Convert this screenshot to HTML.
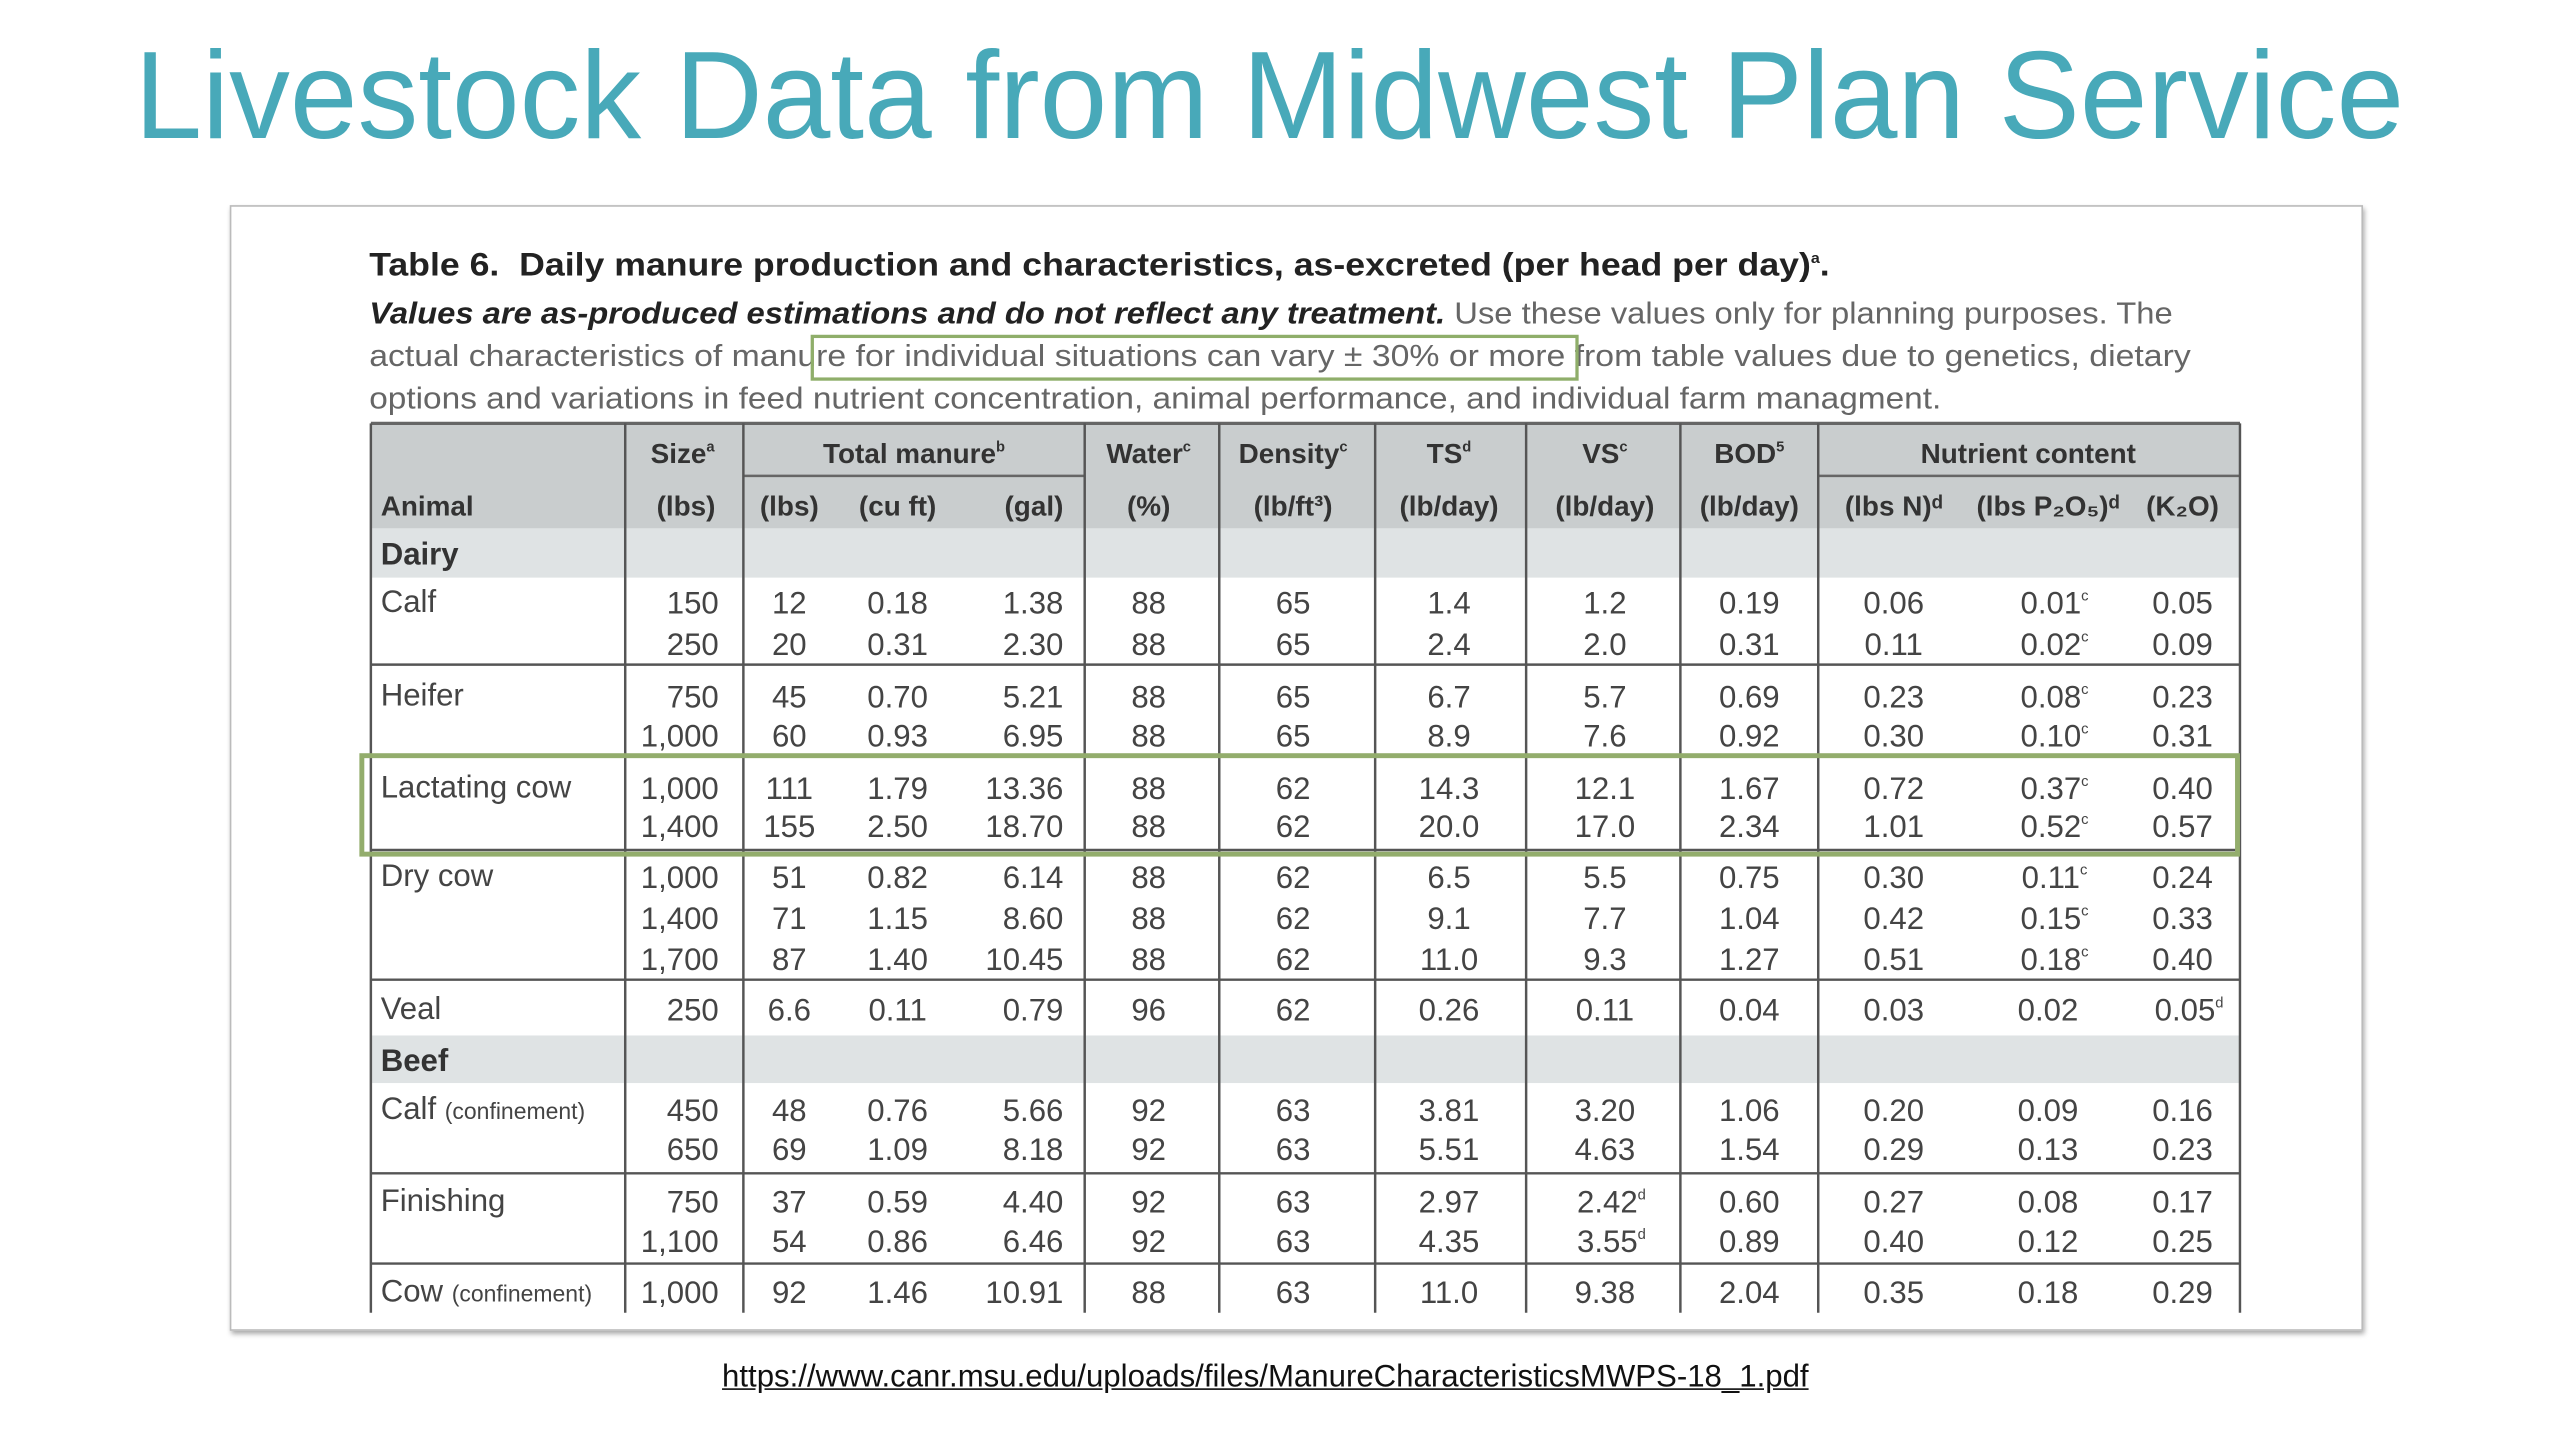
<!DOCTYPE html>
<html><head><meta charset="utf-8">
<style>
html,body{margin:0;padding:0;background:#fff;width:2560px;height:1440px;overflow:hidden}
#stage{position:absolute;left:0;top:0;width:1560px;height:878px;transform:scale(1.641);transform-origin:0 0;font-family:"Liberation Sans",sans-serif}
.abs{position:absolute;white-space:nowrap}
#title{left:82px;top:14px;font-size:76px;color:#48a9b9;line-height:90px;transform-origin:0 0}
#frame{left:140px;top:125px;width:1298px;height:684px;border:1px solid #bbb;box-shadow:1px 2px 3px rgba(0,0,0,.35);background:#fff}
.cap{font-size:18.5px;color:#666;left:225px;transform-origin:0 0}
sup,sub{font-size:9px}
</style></head><body>
<div id="stage">
<div id="title" class="abs">Livestock Data from Midwest Plan Service</div>
<div id="frame" class="abs"></div>
<div class="abs cap fit" data-end="1115" style="top:151px;font-size:20px;font-weight:bold;color:#222">Table 6.&nbsp; Daily manure production and characteristics, as-excreted (per head per day)<sup>a</sup>.</div>
<div class="abs cap fit" data-end="1324" style="top:180px"><b><i style="color:#222">Values are as-produced estimations and do not reflect any treatment.</i></b> Use these values only for planning purposes. The</div>
<div class="abs cap fit" data-end="1335" style="top:206px">actual characteristics of manure for individual situations can vary ± 30% or more from table values due to genetics, dietary</div>
<div class="abs cap fit" data-end="1183" style="top:232px">options and variations in feed nutrient concentration, animal performance, and individual farm managment.</div>
<div class="abs" style="left:494px;top:204px;width:464px;height:24px;border:2px solid #8fae6a"></div>
<svg id="tbl" class="abs" style="left:0;top:0" width="1560" height="878"></svg>
<div class="abs" style="left:219px;top:459px;width:1140px;height:57px;border:3px solid #93ad6c"></div>
<div class="abs" style="left:440px;top:829px;font-size:19px;color:#111;text-decoration:underline">https://www.canr.msu.edu/uploads/files/ManureCharacteristicsMWPS-18_1.pdf</div>
</div>
<script>
const colLines=[226,381,453,661,743,838,930,1024,1108,1365];
const colX=[232,438,481,547,648,700,788,883,978,1066,1154,1248,1330];
const colAlign=['start','end','middle','middle','end','middle','middle','middle','middle','middle','middle','middle','middle'];
const sections=[{name:'Dairy',y:322,h:30},{name:'Beef',y:631,h:29}];
const groupLines=[405,460,518,597,715,770];
const rowLabels=['Calf','','Heifer','','Lactating cow','','Dry cow','','','Veal','Calf (confinement)','','Finishing','','Cow (confinement)'];
const rowY=[367,392,424,448,480,503,534,559,584,615,676,700,732,756,787];
const rowVals=[
['150','12','0.18','1.38','88','65','1.4','1.2','0.19','0.06','0.01c','0.05'],
['250','20','0.31','2.30','88','65','2.4','2.0','0.31','0.11','0.02c','0.09'],
['750','45','0.70','5.21','88','65','6.7','5.7','0.69','0.23','0.08c','0.23'],
['1,000','60','0.93','6.95','88','65','8.9','7.6','0.92','0.30','0.10c','0.31'],
['1,000','111','1.79','13.36','88','62','14.3','12.1','1.67','0.72','0.37c','0.40'],
['1,400','155','2.50','18.70','88','62','20.0','17.0','2.34','1.01','0.52c','0.57'],
['1,000','51','0.82','6.14','88','62','6.5','5.5','0.75','0.30','0.11c','0.24'],
['1,400','71','1.15','8.60','88','62','9.1','7.7','1.04','0.42','0.15c','0.33'],
['1,700','87','1.40','10.45','88','62','11.0','9.3','1.27','0.51','0.18c','0.40'],
['250','6.6','0.11','0.79','96','62','0.26','0.11','0.04','0.03','0.02','0.05d'],
['450','48','0.76','5.66','92','63','3.81','3.20','1.06','0.20','0.09','0.16'],
['650','69','1.09','8.18','92','63','5.51','4.63','1.54','0.29','0.13','0.23'],
['750','37','0.59','4.40','92','63','2.97','2.42d','0.60','0.27','0.08','0.17'],
['1,100','54','0.86','6.46','92','63','4.35','3.55d','0.89','0.40','0.12','0.25'],
['1,000','92','1.46','10.91','88','63','11.0','9.38','2.04','0.35','0.18','0.29']];
const head1=[['Size','a',416],['Total manure','b',557],['Water','c',700],['Density','c',788],['TS','d',883],['VS','c',978],['BOD','5',1066],['Nutrient content','',1236]];
const head2=['Animal','(lbs)','(lbs)','(cu ft)','(gal)','(%)','(lb/ft³)','(lb/day)','(lb/day)','(lb/day)','(lbs N)ᵈ','(lbs P₂O₅)ᵈ','(K₂O)'];
const svg=document.getElementById('tbl');const NS='http://www.w3.org/2000/svg';
function mk(t,a){const e=document.createElementNS(NS,t);for(const k in a)e.setAttribute(k,a[k]);svg.appendChild(e);return e;}
const TOP=258,BOT=800,L=colLines[0],R=colLines[colLines.length-1];
let e=mk('rect',{x:L,y:TOP,width:R-L,height:64,fill:'#c9cdce'});

sections.forEach(s=>{let r=mk('rect',{x:L,y:s.y,width:R-L,height:s.h,fill:'#dfe3e4'});

let t=mk('text',{x:232,y:s.y+s.h/2+7,'font-family':'Liberation Sans, sans-serif','font-size':19,'font-weight':'bold',fill:'#333'});t.textContent=s.name;
});
mk('line',{x1:L,y1:TOP,x2:R,y2:TOP,stroke:'#666','stroke-width':2});
mk('line',{x1:453,y1:290,x2:661,y2:290,stroke:'#666','stroke-width':1.5});
mk('line',{x1:1108,y1:290,x2:R,y2:290,stroke:'#666','stroke-width':1.5});
groupLines.forEach(y=>{let l=mk('line',{x1:L,y1:y,x2:R,y2:y,stroke:'#555','stroke-width':1.5});
});
colLines.forEach(x=>{let l=mk('line',{x1:x,y1:TOP,x2:x,y2:BOT,stroke:'#555','stroke-width':1.5});
});
const F='Liberation Sans Narrow, Liberation Sans, sans-serif';
head1.forEach(h=>{let t=mk('text',{x:h[2],y:282,'text-anchor':'middle','font-family':F,'font-size':17,'font-weight':'bold',fill:'#333'});
t.innerHTML=h[0]+(h[1]?'<tspan font-size="9" dy="-7">'+h[1]+'</tspan>':'');
});
head2.forEach((h,i)=>{let t=mk('text',{x:colX[i]+(i==1?-2:0),y:314,'text-anchor':i==0?'start':(i==1?'end':(i==4?'end':'middle')),'font-family':F,'font-size':17,'font-weight':'bold',fill:'#333'});
t.textContent=h;});
rowY.forEach((y,r)=>{
 if(rowLabels[r]){let t=mk('text',{x:232,y:y+6,'font-family':F,'font-size':19,fill:'#444'});
  t.innerHTML=rowLabels[r].replace(/ \((confinement)\)/,' <tspan font-size="14">($1)</tspan>');
  }
 rowVals[r].forEach((v,c)=>{const i=c+1;let m=v.match(/^([\d.,]+)([a-z]?)$/);
  let t=mk('text',{x:colX[i]+(m[2]?4:0),y:y+7,'text-anchor':colAlign[i],'font-family':F,'font-size':19,fill:'#444'});
  t.innerHTML=m[1]+(m[2]?'<tspan font-size="9" dy="-8">'+m[2]+'</tspan>':'');
  });
});
const ti=document.getElementById('title');const w=ti.getBoundingClientRect().width/1.641;ti.style.transform='scaleX('+(1383/w)+')';
document.querySelectorAll('.fit').forEach(el=>{const ww=el.getBoundingClientRect().width/1.641;const target=+el.getAttribute('data-end')-225;el.style.transform='scaleX('+(target/ww)+')';});
</script>
</body></html>
